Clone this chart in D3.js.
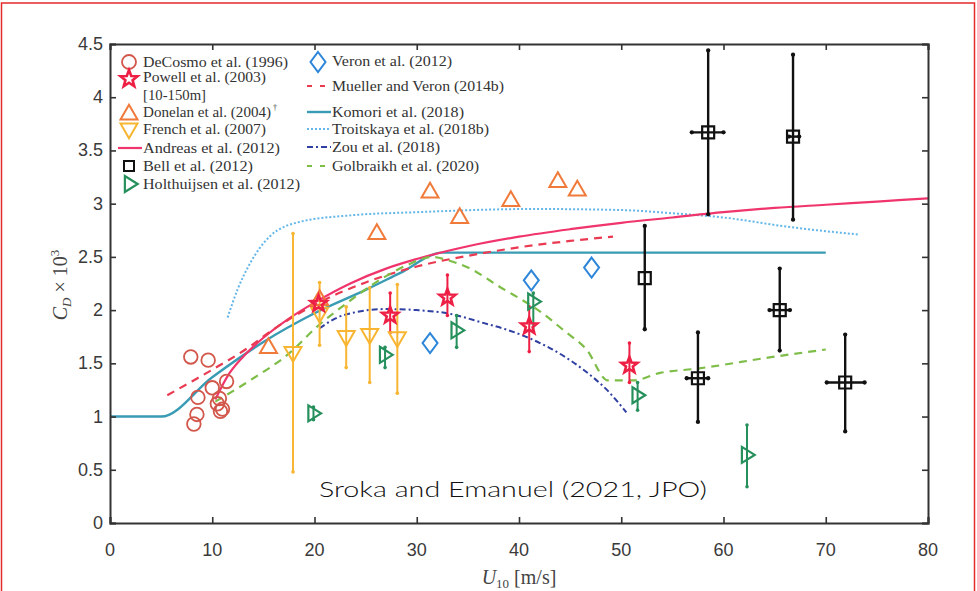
<!DOCTYPE html>
<html>
<head>
<meta charset="utf-8">
<script src="https://cdn.jsdelivr.net/npm/d3@7"></script>
<style>
  html, body { margin: 0; padding: 0; background: #fff; }
  svg { display: block; }
</style>
</head>
<body>
<svg id="chart" width="977" height="591"></svg>
<script>
// ---- Drag coefficient observations and parameterisations ----
const xTicks = [0, 10, 20, 30, 40, 50, 60, 70, 80];
const yTicks = [0, 0.5, 1, 1.5, 2, 2.5, 3, 3.5, 4, 4.5];
const yTickLabels = ["0", "0.5", "1", "1.5", "2", "2.5", "3", "3.5", "4", "4.5"];

// [U10, Cd]
const deCosmo = [[7.9,1.56],[9.6,1.53],[11.4,1.33],[10.0,1.27],[8.6,1.18],[8.5,1.02],
                 [8.2,0.93],[10.7,1.17],[10.8,1.05],[11.0,1.07],[10.5,1.12]];
// [U10, Cd, low, high]
const powell = [[20.4,2.06,2.06,2.06],[27.4,1.95,1.79,2.16],[33.0,2.12,1.95,2.33],
                [41.0,1.85,1.61,2.03],[50.8,1.48,1.32,1.69]];
const donelan = [[15.5,1.65],[20.5,2.10],[26.1,2.72],[31.3,3.11],[34.2,2.87],
                 [39.2,3.03],[43.8,3.21],[45.7,3.13]];
const french = [[17.9,1.60,0.48,2.72],[20.5,1.97,1.67,2.26],[23.1,1.75,1.46,2.03],
                [25.4,1.77,1.32,2.21],[28.1,1.74,1.22,2.24]];
// [U10, Cd, Cd low, Cd high, U10 low, U10 high]
const bell = [[52.3,2.30,1.82,2.79,52.3,52.3],[57.5,1.36,0.95,1.79,56.4,58.5],
              [58.5,3.67,2.90,4.44,56.9,60.0],[65.5,2.00,1.62,2.39,64.5,66.5],
              [66.8,3.63,2.85,4.40,66.4,67.4],[71.9,1.32,0.86,1.77,70.1,73.8]];
const holthuijsen = [[19.9,1.03,0.97,1.09],[26.9,1.58,1.46,1.65],[33.9,1.81,1.65,1.95],
                     [41.4,2.08,1.80,2.16],[51.6,1.20,1.06,1.32],[62.3,0.64,0.34,0.92]];
const veron = [[31.3,1.69],[41.2,2.28],[47.1,2.40]];

// curves [U10, Cd]
const andreas = [[10.3,1.16],[11.5,1.38],[13,1.56],[15,1.74],[17.5,1.92],[20,2.07],[23.5,2.25],
                 [27,2.39],[30,2.48],[35,2.60],[40,2.69],[45,2.76],[50,2.82],[55,2.87],
                 [60,2.92],[65,2.96],[70,2.99],[75,3.02],[80,3.05]];
const muellerVeron = [[5.6,1.20],[8,1.33],[10,1.44],[13.4,1.64],[16,1.82],[20,2.05],[25,2.26],
                      [30,2.41],[35,2.51],[40,2.59],[45,2.65],[49.2,2.69]];
const komori = [[0,1],[5,1],[10,1.37],[15,1.70],[20,1.97],[25,2.19],[28.4,2.35],[32.5,2.54],[70,2.54]];
const troitskaya = [[11.5,1.93],[12.5,2.2],[13.7,2.44],[15.6,2.69],[18.6,2.83],[23.5,2.89],
                    [30,2.92],[41.4,2.95],[50,2.94],[55,2.91],[60,2.87],[66.5,2.78],[73.2,2.71]];
const zou = [[20.5,1.83],[22,1.92],[24,1.98],[27,2.01],[30,2.00],[33,1.97],[36.5,1.88],[39,1.81],
             [41.4,1.72],[44,1.59],[46.3,1.44],[48.5,1.26],[50.5,1.04]];
const golbraikh = [[10.3,1.14],[13.7,1.34],[17.6,1.60],[20.2,1.84],[23.5,2.09],[26,2.26],[29,2.42],
                   [31.5,2.50],[33,2.47],[35,2.40],[38.1,2.22],[42.3,1.97],[44.5,1.80],[46.6,1.63],
                   [48.7,1.34],[51.2,1.34],[53.8,1.41],[57.4,1.45],[64.8,1.56],[70,1.63]];

const C = {
  deCosmo: "#d2564a", powell: "#ee1f44", donelan: "#f07a3a", french: "#f8b531",
  andreas: "#f0346c", bell: "#111111", holth: "#26905c", veron: "#2d86d9",
  mueller: "#ea3a52", komori: "#3a9bb4", troit: "#62b6e8", zou: "#2f3fa2", golb: "#7dbd48"
};

const svg = d3.select("#chart");

// page frame
svg.append("rect").attr("x", 1.5).attr("y", 3).attr("width", 973).attr("height", 600)
  .attr("fill", "none").attr("stroke", "#e52a2a").attr("stroke-width", 1.5);

const x = d3.scaleLinear().domain([0, 80]).range([110, 928]);
const y = d3.scaleLinear().domain([0, 4.5]).range([523, 44]);

// ---- marker shapes ----
function circlePath(r) { return `M${r},0A${r},${r},0,1,1,${-r},0A${r},${r},0,1,1,${r},0Z`; }
function triUp(s) { const h = s * 0.87; return `M0,${-h*0.62}L${s/2},${h*0.38}L${-s/2},${h*0.38}Z`; }
function triDown(s) { const h = s * 0.87; return `M0,${h*0.62}L${s/2},${-h*0.38}L${-s/2},${-h*0.38}Z`; }
function triRight(s) { const h = s * 0.8; return `M${h*0.6},0L${-h*0.4},${-s/2}L${-h*0.4},${s/2}Z`; }
function diamond(w, h) { return `M0,${-h/2}L${w/2},0L0,${h/2}L${-w/2},0Z`; }
function square(s) { return `M${-s/2},${-s/2}H${s/2}V${s/2}H${-s/2}Z`; }
function star(R) {
  const r = R * 0.42; let p = "";
  for (let i = 0; i < 10; i++) {
    const a = -Math.PI / 2 + i * Math.PI / 5, rr = i % 2 ? r : R;
    p += (i ? "L" : "M") + (rr * Math.cos(a)).toFixed(2) + "," + (rr * Math.sin(a)).toFixed(2);
  }
  return p + "Z";
}

const plot = svg.append("g");

// ---- curves ----
const line = d3.line().x(d => x(d[0])).y(d => y(d[1])).curve(d3.curveMonotoneX);
function curve(data, color, width, dash) {
  plot.append("path").datum(data).attr("d", line)
    .attr("fill", "none").attr("stroke", color).attr("stroke-width", width)
    .attr("stroke-dasharray", dash || null).attr("stroke-linecap", "butt");
}
curve(troitskaya, C.troit, 2, "2,2");
curve(komori, C.komori, 2.4);
curve(andreas, C.andreas, 2.2);
curve(muellerVeron, C.mueller, 2.2, "8,6");
curve(zou, C.zou, 2, "6,3,2,3");
curve(golbraikh, C.golb, 2.2, "8,6");

// ---- error bars ----
function vbars(data, color, width, lo, hi) {
  const g = plot.append("g").attr("stroke", color).attr("stroke-width", width).attr("fill", color);
  data.filter(d => d[hi] !== d[lo]).forEach(d => {
    g.append("line").attr("x1", x(d[0])).attr("x2", x(d[0])).attr("y1", y(d[lo])).attr("y2", y(d[hi]));
    [d[lo], d[hi]].forEach(v => g.append("circle").attr("cx", x(d[0])).attr("cy", y(v)).attr("r", width * 0.9).attr("stroke", "none"));
  });
}
function hbars(data, color, width) {
  const g = plot.append("g").attr("stroke", color).attr("stroke-width", width).attr("fill", color);
  data.filter(d => d[5] !== d[4]).forEach(d => {
    g.append("line").attr("x1", x(d[4])).attr("x2", x(d[5])).attr("y1", y(d[1])).attr("y2", y(d[1]));
    [d[4], d[5]].forEach(v => g.append("circle").attr("cx", x(v)).attr("cy", y(d[1])).attr("r", width * 0.9).attr("stroke", "none"));
  });
}
vbars(french, C.french, 2, 2, 3);
vbars(powell, C.powell, 2, 2, 3);
vbars(holthuijsen, C.holth, 2, 2, 3);
vbars(bell, C.bell, 2.4, 2, 3);
hbars(bell, C.bell, 2.4);

// ---- markers ----
function markers(data, pathStr, color, width) {
  plot.append("g").selectAll("path").data(data).join("path")
    .attr("transform", d => `translate(${x(d[0])},${y(d[1])})`)
    .attr("d", pathStr).attr("fill", "none").attr("stroke", color).attr("stroke-width", width || 1.8);
}
markers(deCosmo, circlePath(6.8), C.deCosmo, 1.8);
markers(donelan, triUp(17), C.donelan, 2);
markers(french, triDown(17), C.french, 2);
markers(veron, diamond(15, 20), C.veron, 2);
markers(holthuijsen, triRight(16), C.holth, 2.2);
markers(bell, square(12), C.bell, 2.2);
markers(powell, star(8.5), C.powell, 2.6);

// ---- axes box ----
const axisColor = "#333";
const ax = svg.append("g");
ax.append("g").attr("transform", "translate(0,523)")
  .call(d3.axisBottom(x).tickValues(xTicks).tickSize(-6).tickFormat(""));
ax.append("g").attr("transform", "translate(0,44)")
  .call(d3.axisTop(x).tickValues(xTicks).tickSize(-6).tickFormat(""));
ax.append("g").attr("transform", "translate(110,0)")
  .call(d3.axisLeft(y).tickValues(yTicks).tickSize(-6).tickFormat(""));
ax.append("g").attr("transform", "translate(928,0)")
  .call(d3.axisRight(y).tickValues(yTicks).tickSize(-6).tickFormat(""));
ax.selectAll(".domain").attr("stroke", axisColor).attr("stroke-width", 2);
ax.selectAll(".tick line").attr("stroke", axisColor).attr("stroke-width", 1.6);

// tick labels
svg.append("g").selectAll("text").data(xTicks).join("text")
  .attr("x", d => x(d)).attr("y", 556).attr("text-anchor", "middle")
  .attr("font-family", "Liberation Sans, Arial, sans-serif").attr("font-size", 18).attr("fill", "#3a3a3a")
  .text(d => d);
svg.append("g").selectAll("text").data(yTicks).join("text")
  .attr("x", 103).attr("y", d => y(d) + 6).attr("text-anchor", "end")
  .attr("font-family", "Liberation Sans, Arial, sans-serif").attr("font-size", 18).attr("fill", "#3a3a3a")
  .text((d, i) => yTickLabels[i]);

// axis titles
const serif = "Liberation Serif, 'DejaVu Serif', serif";
const xl = svg.append("text").attr("x", 519).attr("y", 584).attr("text-anchor", "middle")
  .attr("font-family", serif).attr("font-size", 20).attr("fill", "#444");
xl.append("tspan").attr("font-style", "italic").text("U");
xl.append("tspan").attr("font-size", 13).attr("dy", 4).text("10");
xl.append("tspan").attr("dy", -4).text(" [m/s]");

const yl = svg.append("text").attr("transform", "translate(67,285) rotate(-90)").attr("text-anchor", "middle")
  .attr("font-family", serif).attr("font-size", 20).attr("fill", "#444");
yl.append("tspan").attr("font-style", "italic").text("C");
yl.append("tspan").attr("font-style", "italic").attr("font-size", 13).attr("dy", 4).text("D");
yl.append("tspan").attr("dy", -4).text(" × 10");
yl.append("tspan").attr("font-size", 13).attr("dy", -8).text("3");

// ---- legends ----
const lg = svg.append("g").attr("font-family", serif).attr("font-size", 14).attr("fill", "#333");
function ltext(x0, y0, t, w) {
  const tx = lg.append("text").attr("x", x0).attr("y", y0 + 5).text(t);
  if (w) tx.attr("textLength", w).attr("lengthAdjust", "spacingAndGlyphs");
  return tx;
}
function lmark(cx, cy, p, color, sw) {
  lg.append("path").attr("transform", `translate(${cx},${cy})`).attr("d", p)
    .attr("fill", "none").attr("stroke", color).attr("stroke-width", sw || 2);
}
function lline(x0, x1, cy, color, w, dash) {
  lg.append("line").attr("x1", x0).attr("x2", x1).attr("y1", cy).attr("y2", cy)
    .attr("stroke", color).attr("stroke-width", w).attr("stroke-dasharray", dash || null);
}
lmark(129, 62, circlePath(7), C.deCosmo, 1.8);   ltext(143, 62, "DeCosmo et al. (1996)", 145);
lmark(129, 79, star(9), C.powell, 2.6);           ltext(143, 77, "Powell et al. (2003)", 123);
ltext(143, 95, "[10-150m]", 63);
lmark(129, 114, triUp(17), C.donelan, 2);        ltext(143, 112, "Donelan et al. (2004)", 128);
lg.append("text").attr("x", 273).attr("y", 110).attr("font-size", 8).text("†");
lmark(129, 129, triDown(17), C.french, 2);       ltext(143, 129, "French et al. (2007)", 123);
lline(118, 142, 148, C.andreas, 2.2);             ltext(143, 148, "Andreas et al. (2012)", 137);
lmark(129, 166, square(10), C.bell, 2);          ltext(143, 166, "Bell et al. (2012)", 110);
lmark(130, 184, triRight(16), C.holth, 2.2);      ltext(143, 184, "Holthuijsen et al. (2012)", 157);

lmark(318, 62, diamond(15, 20), C.veron, 2);      ltext(332, 61, "Veron et al. (2012)", 120);
lline(307, 331, 86, C.mueller, 2.2, "5,8");       ltext(332, 86, "Mueller and Veron (2014b)", 172);
lline(307, 331, 112, C.komori, 2.4);              ltext(332, 112, "Komori et al. (2018)", 132);
lline(307, 331, 129, C.troit, 2, "2,2");          ltext(332, 129, "Troitskaya et al. (2018b)", 157);
lline(307, 331, 147, C.zou, 2, "6,3,2,3");        ltext(332, 147, "Zou et al. (2018)", 108);
lline(307, 331, 166, C.golb, 2.2, "5,8");         ltext(332, 166, "Golbraikh et al. (2020)", 147);

// ---- source note ----
svg.append("text").attr("x", 513).attr("y", 497).attr("text-anchor", "middle")
  .attr("font-family", "Lato, 'Open Sans', sans-serif").attr("font-size", 22).attr("font-weight", 300)
  .attr("fill", "#111")
  .attr("textLength", 388).attr("lengthAdjust", "spacingAndGlyphs")
  .text("Sroka and Emanuel (2021, JPO)");
</script>
</body>
</html>
